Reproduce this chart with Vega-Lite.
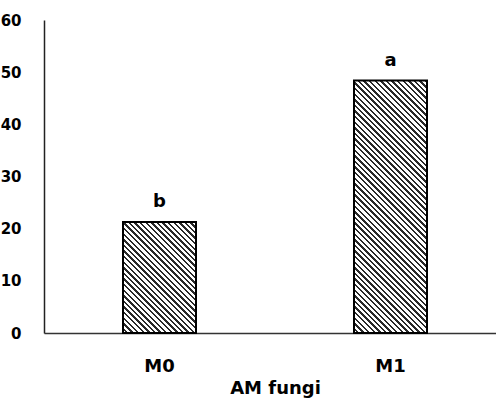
{
  "$schema": "https://vega.github.io/schema/vega-lite/v6.json",
  "autosize": "none",
  "width": 452,
  "height": 313,
  "padding": {"left": 44, "top": 20, "right": 0, "bottom": 69},
  "background": "white",
  "config": {"view": {"stroke": null}},
  "data": {"values": [
    {"g": "M0", "v": 21.3, "sig": "b"},
    {"g": "M1", "v": 48.4, "sig": "a"}
  ]},
  "encoding": {
    "x": {"field": "g", "type": "nominal", "sort": null,
      "scale": {"type": "band", "range": [0, 462], "paddingInner": 0.684, "paddingOuter": 0.342},
      "axis": {"title": "AM fungi", "titleFont": "DejaVu Sans", "titleFontSize": 18, "titleFontWeight": "bold", "titleColor": "#000", "titlePadding": 4,
        "labelAngle": 0, "ticks": false, "labelPadding": 24, "labelFont": "DejaVu Sans", "labelFontSize": 18, "labelFontWeight": "bold", "labelColor": "#000",
        "domainColor": "#333", "domainWidth": 1.5}},
    "y": {"field": "v", "type": "quantitative",
      "scale": {"domain": [0, 60], "nice": false},
      "axis": {"title": null, "values": [0, 10, 20, 30, 40, 50, 60], "grid": false, "ticks": false, "labelPadding": 23,
        "labelFont": "DejaVu Sans", "labelFontSize": 15, "labelFontWeight": "bold", "labelColor": "#000",
        "domainColor": "#222", "domainWidth": 1.5}}
  },
  "layer": [
    {"mark": {"type": "bar", "stroke": "#000", "strokeWidth": 2},
     "encoding": {
       "fill": {
         "condition": {"test": "datum.g === 'M0'", "value": {"gradient": "linear", "x1": 0, "y1": 1, "x2": 1.8506, "y2": -1.8166, "stops": [
{"offset":0,"color":"#fff"},{"offset":0.0075,"color":"#fff"},{"offset":0.0075,"color":"#2a2a2a"},{"offset":0.0125,"color":"#2a2a2a"},
{"offset":0.0125,"color":"#fff"},{"offset":0.02,"color":"#fff"},{"offset":0.02,"color":"#2a2a2a"},{"offset":0.025,"color":"#2a2a2a"},
{"offset":0.025,"color":"#fff"},{"offset":0.0325,"color":"#fff"},{"offset":0.0325,"color":"#2a2a2a"},{"offset":0.0375,"color":"#2a2a2a"},
{"offset":0.0375,"color":"#fff"},{"offset":0.045,"color":"#fff"},{"offset":0.045,"color":"#2a2a2a"},{"offset":0.05,"color":"#2a2a2a"},
{"offset":0.05,"color":"#fff"},{"offset":0.0575,"color":"#fff"},{"offset":0.0575,"color":"#2a2a2a"},{"offset":0.0625,"color":"#2a2a2a"},
{"offset":0.0625,"color":"#fff"},{"offset":0.07,"color":"#fff"},{"offset":0.07,"color":"#2a2a2a"},{"offset":0.075,"color":"#2a2a2a"},
{"offset":0.075,"color":"#fff"},{"offset":0.0825,"color":"#fff"},{"offset":0.0825,"color":"#2a2a2a"},{"offset":0.0875,"color":"#2a2a2a"},
{"offset":0.0875,"color":"#fff"},{"offset":0.095,"color":"#fff"},{"offset":0.095,"color":"#2a2a2a"},{"offset":0.1,"color":"#2a2a2a"},
{"offset":0.1,"color":"#fff"},{"offset":0.1075,"color":"#fff"},{"offset":0.1075,"color":"#2a2a2a"},{"offset":0.1125,"color":"#2a2a2a"},
{"offset":0.1125,"color":"#fff"},{"offset":0.12,"color":"#fff"},{"offset":0.12,"color":"#2a2a2a"},{"offset":0.125,"color":"#2a2a2a"},
{"offset":0.125,"color":"#fff"},{"offset":0.1325,"color":"#fff"},{"offset":0.1325,"color":"#2a2a2a"},{"offset":0.1375,"color":"#2a2a2a"},
{"offset":0.1375,"color":"#fff"},{"offset":0.145,"color":"#fff"},{"offset":0.145,"color":"#2a2a2a"},{"offset":0.15,"color":"#2a2a2a"},
{"offset":0.15,"color":"#fff"},{"offset":0.1575,"color":"#fff"},{"offset":0.1575,"color":"#2a2a2a"},{"offset":0.1625,"color":"#2a2a2a"},
{"offset":0.1625,"color":"#fff"},{"offset":0.17,"color":"#fff"},{"offset":0.17,"color":"#2a2a2a"},{"offset":0.175,"color":"#2a2a2a"},
{"offset":0.175,"color":"#fff"},{"offset":0.1825,"color":"#fff"},{"offset":0.1825,"color":"#2a2a2a"},{"offset":0.1875,"color":"#2a2a2a"},
{"offset":0.1875,"color":"#fff"},{"offset":0.195,"color":"#fff"},{"offset":0.195,"color":"#2a2a2a"},{"offset":0.2,"color":"#2a2a2a"},
{"offset":0.2,"color":"#fff"},{"offset":0.2075,"color":"#fff"},{"offset":0.2075,"color":"#2a2a2a"},{"offset":0.2125,"color":"#2a2a2a"},
{"offset":0.2125,"color":"#fff"},{"offset":0.22,"color":"#fff"},{"offset":0.22,"color":"#2a2a2a"},{"offset":0.225,"color":"#2a2a2a"},
{"offset":0.225,"color":"#fff"},{"offset":0.2325,"color":"#fff"},{"offset":0.2325,"color":"#2a2a2a"},{"offset":0.2375,"color":"#2a2a2a"},
{"offset":0.2375,"color":"#fff"},{"offset":0.245,"color":"#fff"},{"offset":0.245,"color":"#2a2a2a"},{"offset":0.25,"color":"#2a2a2a"},
{"offset":0.25,"color":"#fff"},{"offset":0.2575,"color":"#fff"},{"offset":0.2575,"color":"#2a2a2a"},{"offset":0.2625,"color":"#2a2a2a"},
{"offset":0.2625,"color":"#fff"},{"offset":0.27,"color":"#fff"},{"offset":0.27,"color":"#2a2a2a"},{"offset":0.275,"color":"#2a2a2a"},
{"offset":0.275,"color":"#fff"},{"offset":0.2825,"color":"#fff"},{"offset":0.2825,"color":"#2a2a2a"},{"offset":0.2875,"color":"#2a2a2a"},
{"offset":0.2875,"color":"#fff"},{"offset":0.295,"color":"#fff"},{"offset":0.295,"color":"#2a2a2a"},{"offset":0.3,"color":"#2a2a2a"},
{"offset":0.3,"color":"#fff"},{"offset":0.3075,"color":"#fff"},{"offset":0.3075,"color":"#2a2a2a"},{"offset":0.3125,"color":"#2a2a2a"},
{"offset":0.3125,"color":"#fff"},{"offset":0.32,"color":"#fff"},{"offset":0.32,"color":"#2a2a2a"},{"offset":0.325,"color":"#2a2a2a"},
{"offset":0.325,"color":"#fff"},{"offset":0.3325,"color":"#fff"},{"offset":0.3325,"color":"#2a2a2a"},{"offset":0.3375,"color":"#2a2a2a"},
{"offset":0.3375,"color":"#fff"},{"offset":0.345,"color":"#fff"},{"offset":0.345,"color":"#2a2a2a"},{"offset":0.35,"color":"#2a2a2a"},
{"offset":0.35,"color":"#fff"},{"offset":0.3575,"color":"#fff"},{"offset":0.3575,"color":"#2a2a2a"},{"offset":0.3625,"color":"#2a2a2a"},
{"offset":0.3625,"color":"#fff"},{"offset":0.37,"color":"#fff"},{"offset":0.37,"color":"#2a2a2a"},{"offset":0.375,"color":"#2a2a2a"},
{"offset":0.375,"color":"#fff"},{"offset":0.3825,"color":"#fff"},{"offset":0.3825,"color":"#2a2a2a"},{"offset":0.3875,"color":"#2a2a2a"},
{"offset":0.3875,"color":"#fff"},{"offset":0.395,"color":"#fff"},{"offset":0.395,"color":"#2a2a2a"},{"offset":0.4,"color":"#2a2a2a"},
{"offset":0.4,"color":"#fff"},{"offset":0.4075,"color":"#fff"},{"offset":0.4075,"color":"#2a2a2a"},{"offset":0.4125,"color":"#2a2a2a"},
{"offset":0.4125,"color":"#fff"},{"offset":0.42,"color":"#fff"},{"offset":0.42,"color":"#2a2a2a"},{"offset":0.425,"color":"#2a2a2a"}
]}},
         "value": {"gradient": "linear", "x1": 0, "y1": 1, "x2": 0.4734, "y2": -0.6375, "stops": [
{"offset":0,"color":"#fff"},{"offset":0.0075,"color":"#fff"},{"offset":0.0075,"color":"#2a2a2a"},{"offset":0.0125,"color":"#2a2a2a"},
{"offset":0.0125,"color":"#fff"},{"offset":0.02,"color":"#fff"},{"offset":0.02,"color":"#2a2a2a"},{"offset":0.025,"color":"#2a2a2a"},
{"offset":0.025,"color":"#fff"},{"offset":0.0325,"color":"#fff"},{"offset":0.0325,"color":"#2a2a2a"},{"offset":0.0375,"color":"#2a2a2a"},
{"offset":0.0375,"color":"#fff"},{"offset":0.045,"color":"#fff"},{"offset":0.045,"color":"#2a2a2a"},{"offset":0.05,"color":"#2a2a2a"},
{"offset":0.05,"color":"#fff"},{"offset":0.0575,"color":"#fff"},{"offset":0.0575,"color":"#2a2a2a"},{"offset":0.0625,"color":"#2a2a2a"},
{"offset":0.0625,"color":"#fff"},{"offset":0.07,"color":"#fff"},{"offset":0.07,"color":"#2a2a2a"},{"offset":0.075,"color":"#2a2a2a"},
{"offset":0.075,"color":"#fff"},{"offset":0.0825,"color":"#fff"},{"offset":0.0825,"color":"#2a2a2a"},{"offset":0.0875,"color":"#2a2a2a"},
{"offset":0.0875,"color":"#fff"},{"offset":0.095,"color":"#fff"},{"offset":0.095,"color":"#2a2a2a"},{"offset":0.1,"color":"#2a2a2a"},
{"offset":0.1,"color":"#fff"},{"offset":0.1075,"color":"#fff"},{"offset":0.1075,"color":"#2a2a2a"},{"offset":0.1125,"color":"#2a2a2a"},
{"offset":0.1125,"color":"#fff"},{"offset":0.12,"color":"#fff"},{"offset":0.12,"color":"#2a2a2a"},{"offset":0.125,"color":"#2a2a2a"},
{"offset":0.125,"color":"#fff"},{"offset":0.1325,"color":"#fff"},{"offset":0.1325,"color":"#2a2a2a"},{"offset":0.1375,"color":"#2a2a2a"},
{"offset":0.1375,"color":"#fff"},{"offset":0.145,"color":"#fff"},{"offset":0.145,"color":"#2a2a2a"},{"offset":0.15,"color":"#2a2a2a"},
{"offset":0.15,"color":"#fff"},{"offset":0.1575,"color":"#fff"},{"offset":0.1575,"color":"#2a2a2a"},{"offset":0.1625,"color":"#2a2a2a"},
{"offset":0.1625,"color":"#fff"},{"offset":0.17,"color":"#fff"},{"offset":0.17,"color":"#2a2a2a"},{"offset":0.175,"color":"#2a2a2a"},
{"offset":0.175,"color":"#fff"},{"offset":0.1825,"color":"#fff"},{"offset":0.1825,"color":"#2a2a2a"},{"offset":0.1875,"color":"#2a2a2a"},
{"offset":0.1875,"color":"#fff"},{"offset":0.195,"color":"#fff"},{"offset":0.195,"color":"#2a2a2a"},{"offset":0.2,"color":"#2a2a2a"},
{"offset":0.2,"color":"#fff"},{"offset":0.2075,"color":"#fff"},{"offset":0.2075,"color":"#2a2a2a"},{"offset":0.2125,"color":"#2a2a2a"},
{"offset":0.2125,"color":"#fff"},{"offset":0.22,"color":"#fff"},{"offset":0.22,"color":"#2a2a2a"},{"offset":0.225,"color":"#2a2a2a"},
{"offset":0.225,"color":"#fff"},{"offset":0.2325,"color":"#fff"},{"offset":0.2325,"color":"#2a2a2a"},{"offset":0.2375,"color":"#2a2a2a"},
{"offset":0.2375,"color":"#fff"},{"offset":0.245,"color":"#fff"},{"offset":0.245,"color":"#2a2a2a"},{"offset":0.25,"color":"#2a2a2a"},
{"offset":0.25,"color":"#fff"},{"offset":0.2575,"color":"#fff"},{"offset":0.2575,"color":"#2a2a2a"},{"offset":0.2625,"color":"#2a2a2a"},
{"offset":0.2625,"color":"#fff"},{"offset":0.27,"color":"#fff"},{"offset":0.27,"color":"#2a2a2a"},{"offset":0.275,"color":"#2a2a2a"},
{"offset":0.275,"color":"#fff"},{"offset":0.2825,"color":"#fff"},{"offset":0.2825,"color":"#2a2a2a"},{"offset":0.2875,"color":"#2a2a2a"},
{"offset":0.2875,"color":"#fff"},{"offset":0.295,"color":"#fff"},{"offset":0.295,"color":"#2a2a2a"},{"offset":0.3,"color":"#2a2a2a"},
{"offset":0.3,"color":"#fff"},{"offset":0.3075,"color":"#fff"},{"offset":0.3075,"color":"#2a2a2a"},{"offset":0.3125,"color":"#2a2a2a"},
{"offset":0.3125,"color":"#fff"},{"offset":0.32,"color":"#fff"},{"offset":0.32,"color":"#2a2a2a"},{"offset":0.325,"color":"#2a2a2a"},
{"offset":0.325,"color":"#fff"},{"offset":0.3325,"color":"#fff"},{"offset":0.3325,"color":"#2a2a2a"},{"offset":0.3375,"color":"#2a2a2a"},
{"offset":0.3375,"color":"#fff"},{"offset":0.345,"color":"#fff"},{"offset":0.345,"color":"#2a2a2a"},{"offset":0.35,"color":"#2a2a2a"},
{"offset":0.35,"color":"#fff"},{"offset":0.3575,"color":"#fff"},{"offset":0.3575,"color":"#2a2a2a"},{"offset":0.3625,"color":"#2a2a2a"},
{"offset":0.3625,"color":"#fff"},{"offset":0.37,"color":"#fff"},{"offset":0.37,"color":"#2a2a2a"},{"offset":0.375,"color":"#2a2a2a"},
{"offset":0.375,"color":"#fff"},{"offset":0.3825,"color":"#fff"},{"offset":0.3825,"color":"#2a2a2a"},{"offset":0.3875,"color":"#2a2a2a"},
{"offset":0.3875,"color":"#fff"},{"offset":0.395,"color":"#fff"},{"offset":0.395,"color":"#2a2a2a"},{"offset":0.4,"color":"#2a2a2a"},
{"offset":0.4,"color":"#fff"},{"offset":0.4075,"color":"#fff"},{"offset":0.4075,"color":"#2a2a2a"},{"offset":0.4125,"color":"#2a2a2a"},
{"offset":0.4125,"color":"#fff"},{"offset":0.42,"color":"#fff"},{"offset":0.42,"color":"#2a2a2a"},{"offset":0.425,"color":"#2a2a2a"},
{"offset":0.425,"color":"#fff"},{"offset":0.4325,"color":"#fff"},{"offset":0.4325,"color":"#2a2a2a"},{"offset":0.4375,"color":"#2a2a2a"},
{"offset":0.4375,"color":"#fff"},{"offset":0.445,"color":"#fff"},{"offset":0.445,"color":"#2a2a2a"},{"offset":0.45,"color":"#2a2a2a"},
{"offset":0.45,"color":"#fff"},{"offset":0.4575,"color":"#fff"},{"offset":0.4575,"color":"#2a2a2a"},{"offset":0.4625,"color":"#2a2a2a"},
{"offset":0.4625,"color":"#fff"},{"offset":0.47,"color":"#fff"},{"offset":0.47,"color":"#2a2a2a"},{"offset":0.475,"color":"#2a2a2a"},
{"offset":0.475,"color":"#fff"},{"offset":0.4825,"color":"#fff"},{"offset":0.4825,"color":"#2a2a2a"},{"offset":0.4875,"color":"#2a2a2a"},
{"offset":0.4875,"color":"#fff"},{"offset":0.495,"color":"#fff"},{"offset":0.495,"color":"#2a2a2a"},{"offset":0.5,"color":"#2a2a2a"},
{"offset":0.5,"color":"#fff"},{"offset":0.5075,"color":"#fff"},{"offset":0.5075,"color":"#2a2a2a"},{"offset":0.5125,"color":"#2a2a2a"},
{"offset":0.5125,"color":"#fff"},{"offset":0.52,"color":"#fff"},{"offset":0.52,"color":"#2a2a2a"},{"offset":0.525,"color":"#2a2a2a"},
{"offset":0.525,"color":"#fff"},{"offset":0.5325,"color":"#fff"},{"offset":0.5325,"color":"#2a2a2a"},{"offset":0.5375,"color":"#2a2a2a"},
{"offset":0.5375,"color":"#fff"},{"offset":0.545,"color":"#fff"},{"offset":0.545,"color":"#2a2a2a"},{"offset":0.55,"color":"#2a2a2a"},
{"offset":0.55,"color":"#fff"},{"offset":0.5575,"color":"#fff"},{"offset":0.5575,"color":"#2a2a2a"},{"offset":0.5625,"color":"#2a2a2a"},
{"offset":0.5625,"color":"#fff"},{"offset":0.57,"color":"#fff"},{"offset":0.57,"color":"#2a2a2a"},{"offset":0.575,"color":"#2a2a2a"},
{"offset":0.575,"color":"#fff"},{"offset":0.5825,"color":"#fff"},{"offset":0.5825,"color":"#2a2a2a"},{"offset":0.5875,"color":"#2a2a2a"},
{"offset":0.5875,"color":"#fff"},{"offset":0.595,"color":"#fff"},{"offset":0.595,"color":"#2a2a2a"},{"offset":0.6,"color":"#2a2a2a"},
{"offset":0.6,"color":"#fff"},{"offset":0.6075,"color":"#fff"},{"offset":0.6075,"color":"#2a2a2a"},{"offset":0.6125,"color":"#2a2a2a"},
{"offset":0.6125,"color":"#fff"},{"offset":0.62,"color":"#fff"},{"offset":0.62,"color":"#2a2a2a"},{"offset":0.625,"color":"#2a2a2a"},
{"offset":0.625,"color":"#fff"},{"offset":0.6325,"color":"#fff"},{"offset":0.6325,"color":"#2a2a2a"},{"offset":0.6375,"color":"#2a2a2a"},
{"offset":0.6375,"color":"#fff"},{"offset":0.645,"color":"#fff"},{"offset":0.645,"color":"#2a2a2a"},{"offset":0.65,"color":"#2a2a2a"},
{"offset":0.65,"color":"#fff"},{"offset":0.6575,"color":"#fff"},{"offset":0.6575,"color":"#2a2a2a"},{"offset":0.6625,"color":"#2a2a2a"},
{"offset":0.6625,"color":"#fff"},{"offset":0.67,"color":"#fff"},{"offset":0.67,"color":"#2a2a2a"},{"offset":0.675,"color":"#2a2a2a"},
{"offset":0.675,"color":"#fff"},{"offset":0.6825,"color":"#fff"},{"offset":0.6825,"color":"#2a2a2a"},{"offset":0.6875,"color":"#2a2a2a"},
{"offset":0.6875,"color":"#fff"},{"offset":0.695,"color":"#fff"},{"offset":0.695,"color":"#2a2a2a"},{"offset":0.7,"color":"#2a2a2a"},
{"offset":0.7,"color":"#fff"},{"offset":0.7075,"color":"#fff"},{"offset":0.7075,"color":"#2a2a2a"},{"offset":0.7125,"color":"#2a2a2a"},
{"offset":0.7125,"color":"#fff"},{"offset":0.72,"color":"#fff"},{"offset":0.72,"color":"#2a2a2a"},{"offset":0.725,"color":"#2a2a2a"},
{"offset":0.725,"color":"#fff"},{"offset":0.7325,"color":"#fff"},{"offset":0.7325,"color":"#2a2a2a"},{"offset":0.7375,"color":"#2a2a2a"}
]}
       }
     }},
    {"mark": {"type": "text", "dy": -15, "baseline": "alphabetic", "font": "DejaVu Sans", "fontSize": 18, "fontWeight": "bold", "color": "#000"},
     "encoding": {"text": {"field": "sig"}}}
  ]
}
